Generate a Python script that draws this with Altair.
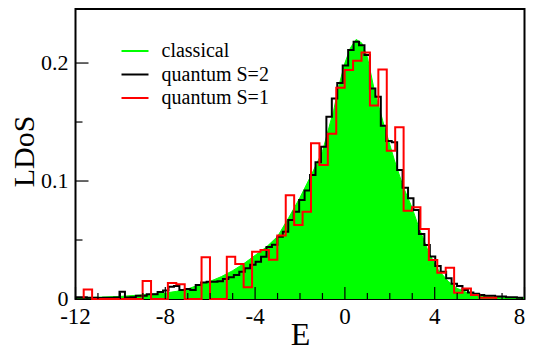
import altair as alt
import pandas as pd

# ---------------- data ----------------
# classical LDoS (green filled envelope)
classical_E = [-12.0, -11.0, -10.0, -9.0, -8.0, -7.5, -7.0, -6.5, -6.0, -5.5,
               -5.0, -4.5, -4.0, -3.5, -3.0, -2.5, -2.0, -1.5, -1.0, -0.5,
               -0.25, 0.0, 0.25, 0.5, 0.75, 1.0, 1.3, 1.7, 2.2, 2.6,
               3.0, 3.25, 3.7, 4.1, 4.6, 5.0, 5.5, 6.0, 6.5, 7.0, 8.0]
classical_ldos = [0.001, 0.0015, 0.0022, 0.0035, 0.005, 0.0065, 0.0085, 0.012, 0.015, 0.019,
                  0.024, 0.030, 0.037, 0.044, 0.053, 0.069, 0.086, 0.105, 0.125, 0.160,
                  0.182, 0.200, 0.213, 0.220, 0.217, 0.205, 0.178, 0.150, 0.118, 0.095,
                  0.077, 0.063, 0.041, 0.026, 0.015, 0.009, 0.005, 0.003, 0.002, 0.0015, 0.001]

# quantum S=2 histogram (black)
s2_first_edge = -11.98
s2_bin_width = 0.2425
s2_ldos = [0.0015, 0.0015, 0.0010, 0.0010, 0.0008, 0.0010, 0.0010, 0.0012, 0.0062, 0.0012,
           0.0015, 0.0028, 0.0028, 0.0040, 0.0040, 0.0060, 0.0073, 0.0104, 0.0110, 0.0076,
           0.0085, 0.0076, 0.0119, 0.0140, 0.0147, 0.0147, 0.0150, 0.0170, 0.0184, 0.0203,
           0.0232, 0.0260, 0.0290, 0.0316, 0.0359, 0.0440, 0.0460, 0.0528, 0.0570, 0.0670,
           0.0740, 0.0840, 0.0920, 0.1050, 0.1160, 0.1290, 0.1545, 0.1700, 0.1830, 0.1980,
           0.2110, 0.2180, 0.2150, 0.2068, 0.1785, 0.1715, 0.1469, 0.1340, 0.1328, 0.1093,
           0.0944, 0.0853, 0.0754, 0.0550, 0.0458, 0.0360, 0.0280, 0.0232, 0.0175, 0.0130,
           0.0110, 0.0076, 0.0056, 0.0045, 0.0034, 0.0028, 0.0028, 0.0022, 0.0022, 0.0015,
           0.0015, 0.0010]

# quantum S=1 histogram (red)
s1_first_edge = -11.635
s1_bin_width = 0.375
s1_ldos = [0.008, 0.0, 0.0, 0.0, 0.0, 0.0, 0.0, 0.0153, 0.0, 0.0,
           0.0136, 0.0124, 0.0, 0.0, 0.0353, 0.0, 0.0, 0.0359, 0.0297, 0.0100,
           0.0400, 0.0415, 0.0333, 0.0538, 0.0880, 0.0627, 0.0740, 0.1320, 0.1136, 0.1400,
           0.1790, 0.1940, 0.2020, 0.2090, 0.1640, 0.1946, 0.1257, 0.1455, 0.0748, 0.0777,
           0.0593, 0.0330, 0.0223, 0.0265, 0.0053, 0.0090, 0.0034, 0.0010, 0.0010]

series_names = ["classical", "quantum S=2", "quantum S=1"]
series_colors = ["#00ff00", "#000000", "#ff0000"]

x_major = [-12, -8, -4, 0, 4, 8]
x_major_labels = ["-12", "-8", "-4", "0", "4", "8"]
x_minor = [-11, -10, -9, -7, -6, -5, -3, -2, -1, 1, 2, 3, 5, 6, 7]
y_major = [0, 0.1, 0.2]
y_major_labels = ["0", "0.1", "0.2"]
y_minor = [0.05, 0.15]

# ---------------- build tables ----------------
W, H = 449, 290
FONT = "Liberation Serif"


def step_table(first_edge, width, heights, name):
    edges = [first_edge + width * i for i in range(len(heights) + 1)]
    xs = [edges[0]] + edges[:-1] + [edges[-1], edges[-1]]
    ys = [0.0] + list(heights) + [heights[-1], 0.0]
    return pd.DataFrame({"E": xs, "ldos": ys, "i": list(range(len(xs))), "series": name})


cl_df = pd.DataFrame({"E": classical_E, "ldos": classical_ldos,
                      "i": list(range(len(classical_E))), "series": series_names[0]})
s2_df = step_table(s2_first_edge, s2_bin_width, s2_ldos, series_names[1])
s1_df = step_table(s1_first_edge, s1_bin_width, s1_ldos, series_names[2])
legend_df = pd.DataFrame({"series": series_names, "off": [0, 23.5, 47]})
xlab_df = pd.DataFrame({"E": x_major, "label": x_major_labels})

xs = alt.Scale(domain=[-12, 8], nice=False, zero=False)
ys = alt.Scale(domain=[0, 0.2458], nice=False, zero=False)
cs = alt.Scale(domain=series_names, range=series_colors)

x_axis = alt.Axis(values=x_major, ticks=False, domain=False, grid=False, labels=False,
                  title="E", titleFont=FONT, titleFontSize=32, titleFontWeight="normal",
                  titleColor="black", titleBaseline="alphabetic", titleY=45)
y_axis = alt.Axis(values=y_major, ticks=False, domain=False, grid=False, labels=False,
                  title="LDoS", titleFont=FONT, titleFontSize=30, titleFontWeight="normal",
                  titleColor="black", titleAngle=270, titleX=-51, titleY=142,
                  titleAlign="center", titleBaseline="middle")

X = alt.X("E:Q", scale=xs, axis=x_axis)
Y = alt.Y("ldos:Q", scale=ys, axis=y_axis)

area = alt.Chart(cl_df).mark_area(color="#00ff00").encode(x=X, y=Y)
cl_line = alt.Chart(cl_df).mark_line(strokeWidth=1, color="#00ff00").encode(x=X, y=Y, order="i:Q")
s2_line = alt.Chart(s2_df).mark_line(interpolate="step-after", strokeWidth=2, color="#000000").encode(
    x=X, y=Y, order="i:Q")
s1_line = alt.Chart(s1_df).mark_line(interpolate="step-after", strokeWidth=2, color="#ff0000").encode(
    x=X, y=Y, order="i:Q")

# inward ticks
xmaj = alt.Chart(pd.DataFrame({"E": x_major})).mark_rule(color="black", strokeWidth=1.2).encode(
    x=X, y=alt.value(H), y2=alt.value(H - 12))
xmin = alt.Chart(pd.DataFrame({"E": x_minor})).mark_rule(color="black", strokeWidth=1.2).encode(
    x=X, y=alt.value(H), y2=alt.value(H - 6))
ymaj = alt.Chart(pd.DataFrame({"ldos": y_major})).mark_rule(color="black", strokeWidth=1.2).encode(
    y=Y, x=alt.value(0), x2=alt.value(13))
ymin = alt.Chart(pd.DataFrame({"ldos": y_minor})).mark_rule(color="black", strokeWidth=1.2).encode(
    y=Y, x=alt.value(0), x2=alt.value(7))

# tick labels as text
xlab = alt.Chart(xlab_df).transform_filter("datum.E < 8").mark_text(
    font=FONT, fontSize=23, baseline="alphabetic", align="center", color="black").encode(
    x=X, y=alt.value(H + 25), text="label:N")
xlab_last = alt.Chart(xlab_df).transform_filter("datum.E >= 8").mark_text(
    font=FONT, fontSize=23, baseline="alphabetic", align="center", color="black", dx=-5).encode(
    x=X, y=alt.value(H + 25), text="label:N")
ylab = alt.Chart(pd.DataFrame({"ldos": y_major, "label": y_major_labels})).mark_text(
    font=FONT, fontSize=22, baseline="middle", align="right", color="black").encode(
    y=Y, x=alt.value(-7), text="label:N")

# legend
leg_line = alt.Chart(legend_df).mark_rule(strokeWidth=2).encode(
    x=alt.value(46), x2=alt.value(73), y=alt.value(42),
    yOffset=alt.YOffset("off:Q", scale=None),
    color=alt.Color("series:N", scale=cs, legend=None))
leg_text = alt.Chart(legend_df).mark_text(
    font=FONT, fontSize=20, baseline="middle", align="left", color="black").encode(
    x=alt.value(86), y=alt.value(42),
    yOffset=alt.YOffset("off:Q", scale=None), text="series:N")

chart = alt.layer(area, cl_line, s2_line, s1_line, xmaj, xmin, ymaj, ymin,
                  xlab, xlab_last, ylab, leg_line, leg_text).properties(
    width=W, height=H,
    autosize=alt.AutoSizeParams(type="none"),
    padding={"left": 67.5, "top": 1, "right": 1.5, "bottom": 51},
    background="white",
).configure_view(
    stroke="black", strokeWidth=2
)

chart.save("out.html", embed_options={"renderer": "svg", "actions": False})
